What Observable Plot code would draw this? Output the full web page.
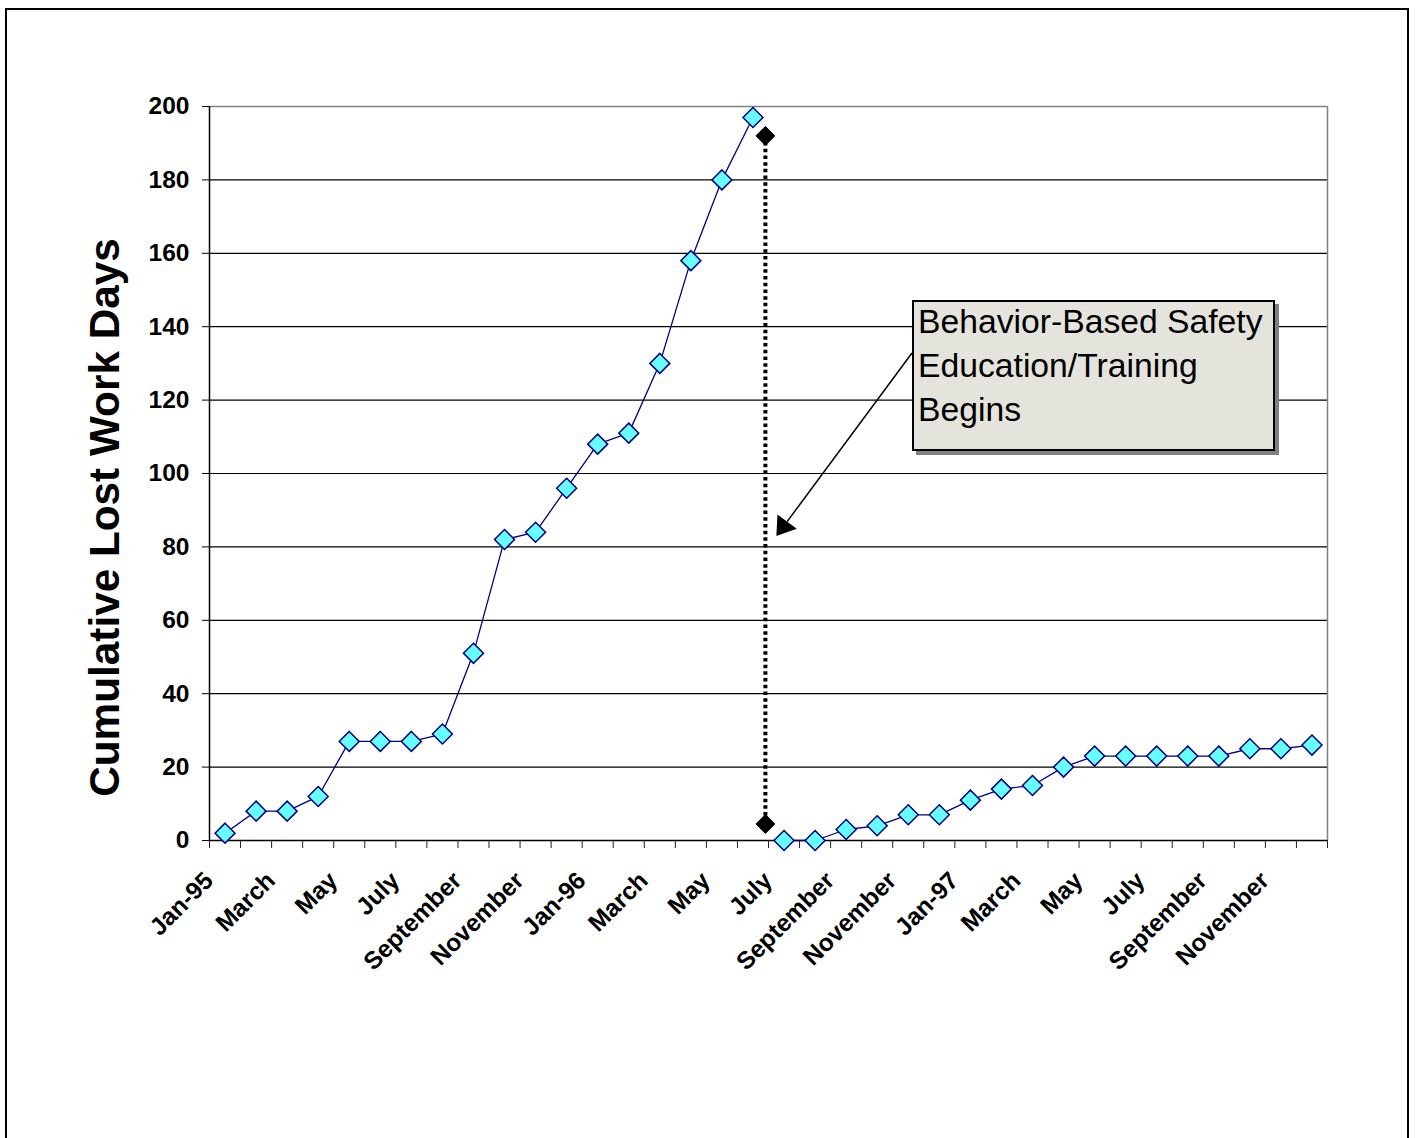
<!DOCTYPE html>
<html><head><meta charset="utf-8">
<script src="https://cdn.jsdelivr.net/npm/d3@7"></script>
<script src="https://cdn.jsdelivr.net/npm/@observablehq/plot@0.6"></script>
<style>
body{margin:0;background:#fff;}
#wrap{position:relative;width:1416px;height:1138px;overflow:hidden;font-family:Arial,"Liberation Sans",sans-serif;background:#fff;}
#wrap svg.chart{position:absolute;left:0;top:0;}
#frame{position:absolute;left:5px;top:8px;width:1404px;height:1200px;border:2px solid #000;box-sizing:border-box;pointer-events:none;}
#note{position:absolute;left:912px;top:300px;width:363px;height:151px;box-sizing:border-box;border:2px solid #000;background:#e4e4dc;box-shadow:4px 4px 0 #808080;font-size:33.7px;line-height:44px;padding:0 0 0 4px;color:#000;white-space:nowrap;}
#note .inner{position:relative;top:-3px;}
#overlay{position:absolute;left:0;top:0;pointer-events:none;}
</style></head>
<body><div id="wrap"><div id="frame"></div></div>
<script>
// ---- data ----
const months = ["Jan-95","Feb-95","Mar-95","Apr-95","May-95","Jun-95","Jul-95","Aug-95","Sep-95","Oct-95","Nov-95","Dec-95",
  "Jan-96","Feb-96","Mar-96","Apr-96","May-96","Jun-96","Jul-96","Aug-96","Sep-96","Oct-96","Nov-96","Dec-96",
  "Jan-97","Feb-97","Mar-97","Apr-97","May-97","Jun-97","Jul-97","Aug-97","Sep-97","Oct-97","Nov-97","Dec-97"];
const tickLabels = ["Jan-95","March","May","July","September","November",
  "Jan-96","March","May","July","September","November",
  "Jan-97","March","May","July","September","November"];
// Jan-95 .. Jun-96
const lostDaysBefore = [2,8,8,12,27,27,27,29,51,82,84,96,108,111,130,158,180,197];
// Jul-96 .. Dec-97
const lostDaysAfter = [0,0,3,4,7,7,11,14,15,20,23,23,23,23,23,25,25,26];
const yTicks = [0,20,40,60,80,100,120,140,160,180,200];
const yTitle = "Cumulative Lost Work Days";
const noteLines = ["Behavior-Based Safety","Education/Training","Begins"];
// training start marker (month position in index units, values)
const trainingMarker = [{month: 17.9, value: 192}, {month: 17.9, value: 4.5}];
const arrowTarget = {month: 18.27, value: 82.8};

// ---- build rows ----
const rowsBefore = lostDaysBefore.map((v, i) => ({month: i + 0.5, label: months[i], value: v}));
const rowsAfter = lostDaysAfter.map((v, i) => ({month: lostDaysBefore.length + i + 0.5, label: months[lostDaysBefore.length + i], value: v}));
const font = "Arial, 'Liberation Sans', sans-serif";

const chart = Plot.plot({
  width: 1416, height: 1138,
  marginLeft: 209, marginRight: 89, marginTop: 106, marginBottom: 298,
  x: {type: "linear", domain: [0, months.length]},
  y: {type: "linear", domain: [0, 200]},
  style: {fontFamily: font, background: "transparent", color: "#000", overflow: "visible"},
  marks: [
    Plot.ruleY(yTicks.filter(d => d > 0 && d < 200), {stroke: "#000", strokeWidth: 1.2}),
    Plot.ruleY([200], {stroke: "#808080", strokeWidth: 1.5}),
    Plot.ruleX([months.length], {stroke: "#808080", strokeWidth: 1.5}),
    Plot.ruleX([0], {stroke: "#000", strokeWidth: 1.5}),
    Plot.ruleY([0], {stroke: "#000", strokeWidth: 1.5}),
    Plot.axisY({ticks: yTicks, tickSize: 7, tickPadding: 13, fontSize: 24.5, fontWeight: "bold", label: null, tickFormat: d => String(d)}),
    Plot.axisX({ticks: d3.range(0, months.length + 1), tickSize: 8, tickFormat: () => "", label: null, stroke: "#222"}),
    Plot.axisX({ticks: tickLabels.map((_, i) => 2 * i + 0.5), tickSize: 0, tickPadding: 36, dx: -16, tickRotate: -45,
      fontSize: 24.5, fontWeight: "bold", label: null,
      tickFormat: d => tickLabels[Math.round((d - 0.5) / 2)]}),
    Plot.text([yTitle], {text: d => d, frameAnchor: "left", textAnchor: "middle", dx: -104, dy: 44, rotate: -90, fontSize: 42.3, fontWeight: "bold", fill: "#000"}),
    Plot.ruleX([trainingMarker[0]], {x: "month", y1: trainingMarker[0].value, y2: trainingMarker[1].value, stroke: "#000", strokeWidth: 4, strokeDasharray: "3.5,3.2"}),
    Plot.dot(trainingMarker, {x: "month", y: "value", symbol: "diamond2", r: 8.5, fill: "#000", stroke: "#000", strokeWidth: 1}),
    Plot.line(rowsBefore, {x: "month", y: "value", stroke: "#000080", strokeWidth: 1.3}),
    Plot.line(rowsAfter, {x: "month", y: "value", stroke: "#000080", strokeWidth: 1.3}),
    Plot.dot(rowsBefore.concat(rowsAfter), {x: "month", y: "value", symbol: "diamond2", r: 9, fill: "#66ffff", stroke: "#000080", strokeWidth: 1.5})
  ]
});
chart.classList.add("chart");
const wrap = document.getElementById("wrap");
wrap.appendChild(chart);

// annotation box
const note = document.createElement("div");
note.id = "note";
const inner = document.createElement("div");
inner.className = "inner";
inner.innerHTML = noteLines.join("<br>");
note.appendChild(inner);
wrap.appendChild(note);

// arrow from box to the training line
const xs = chart.scale("x"), ys = chart.scale("y");
const tip = [xs.apply(arrowTarget.month), ys.apply(arrowTarget.value)];
const tail = [912, 353];
const dx = tip[0] - tail[0], dy = tip[1] - tail[1];
const len = Math.hypot(dx, dy), ux = dx / len, uy = dy / len;
const headLen = 18, headHalf = 12;
const base = [tip[0] - ux * headLen, tip[1] - uy * headLen];
const svg = d3.select(wrap).append("svg").attr("id", "overlay").attr("width", 1416).attr("height", 1138);
svg.append("line").attr("x1", tail[0]).attr("y1", tail[1]).attr("x2", base[0]).attr("y2", base[1])
  .attr("stroke", "#000").attr("stroke-width", 1.5);
svg.append("polygon").attr("points", [
  tip,
  [base[0] - uy * headHalf, base[1] + ux * headHalf],
  [base[0] + uy * headHalf, base[1] - ux * headHalf]
].map(p => p.join(",")).join(" ")).attr("fill", "#000");
</script>
</body></html>
